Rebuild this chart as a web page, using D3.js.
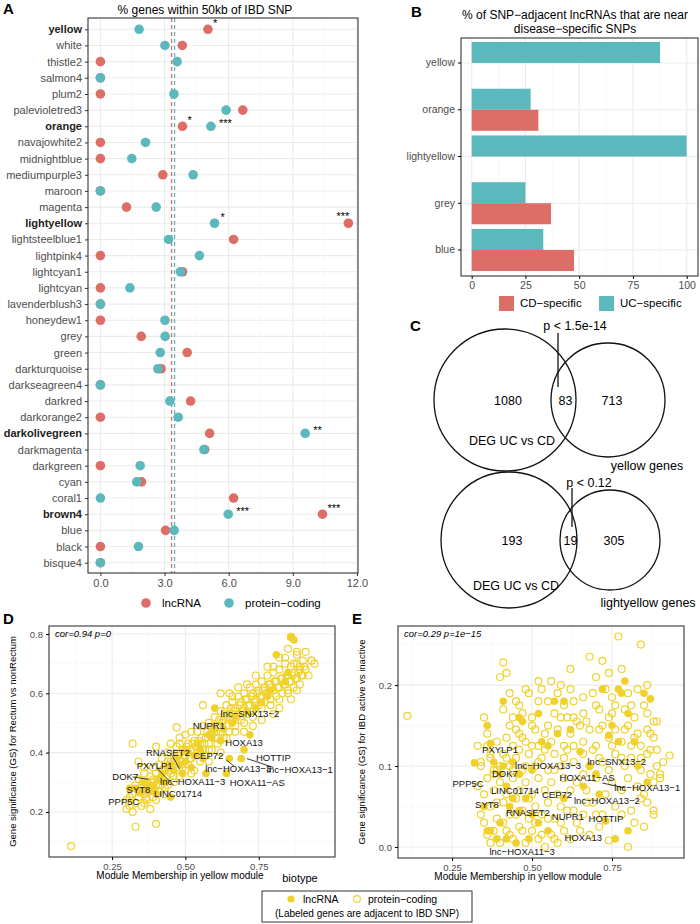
<!DOCTYPE html>
<html><head><meta charset="utf-8">
<script src="https://cdn.jsdelivr.net/npm/d3@7"></script>
<style>body{margin:0;background:#fff}svg{font-family:"Liberation Sans",Arial,sans-serif}</style>
</head><body><svg id="c" width="700" height="924"></svg>
<script>
// ---------- DATA ----------
const modules = ["yellow","white","thistle2","salmon4","plum2","palevioletred3","orange","navajowhite2","midnightblue","mediumpurple3","maroon","magenta","lightyellow","lightsteelblue1","lightpink4","lightcyan1","lightcyan","lavenderblush3","honeydew1","grey","green","darkturquoise","darkseagreen4","darkred","darkorange2","darkolivegreen","darkmagenta","darkgreen","cyan","coral1","brown4","blue","black","bisque4"];
const boldModules = ["yellow","orange","lightyellow","darkolivegreen","brown4"];
const lncPct = [5.03,3.83,0,0,0,6.66,3.84,0,0,2.92,0,1.22,11.6,6.23,0,3.84,0,0,0,1.91,4.06,2.84,0,4.22,0,5.11,4.88,0,1.92,6.23,10.39,3.05,0,0];
const pcPct  = [1.81,3.02,3.59,0,3.44,5.88,5.17,2.11,1.47,4.34,0,2.61,5.34,3.19,4.63,3.75,1.38,0,3.02,3.03,2.80,2.69,0,3.25,3.64,9.58,4.84,1.86,1.70,0,5.98,3.45,1.78,0];
const lncStars = {yellow:"*",orange:"*",lightyellow:"***",brown4:"***"};
const pcStars = {orange:"***",lightyellow:"*",darkolivegreen:"**",brown4:"***"};
const meanLnc = 3.33, meanPc = 3.47;
const aTicks = [0,3,6,9,12];

const bCats = ["yellow","orange","lightyellow","grey","blue"];
const bUC = [87.6,27.4,100,25,33.3];
const bCD = [null,31,null,36.9,47.6];
const bTicks = [0,25,50,75,100];

const venn1 = {a:1080, ab:83, b:713, p:"p < 1.5e-14", bName:"yellow genes"};
const venn2 = {a:193, ab:19, b:305, p:"p < 0.12", bName:"lightyellow genes"};

const dPC = [[0.11,0.085],[0.33,0.15],[0.40,0.16],[0.32,0.43],[0.34,0.37],[0.36,0.35],[0.38,0.21],[0.32,0.20],[0.47,0.485],[0.56,0.56],[0.62,0.60],[0.66,0.59],[0.86,0.79],[0.88,0.73],[0.93,0.71],[0.91,0.74],[0.80,0.69],[0.84,0.72],[0.87,0.70],[0.89,0.69],
[0.30,0.24],[0.31,0.22],[0.32,0.26],[0.33,0.23],[0.33,0.29],[0.34,0.25],[0.34,0.31],[0.35,0.22],[0.35,0.28],[0.36,0.26],[0.36,0.33],[0.37,0.24],[0.37,0.30],[0.38,0.27],[0.38,0.32],[0.39,0.25],[0.39,0.35],[0.40,0.29],[0.40,0.33],[0.40,0.42],[0.41,0.27],[0.41,0.36],[0.42,0.31],[0.42,0.38],[0.43,0.26],[0.43,0.34],[0.44,0.29],[0.44,0.40],[0.45,0.33],[0.45,0.37],[0.45,0.43],[0.46,0.30],[0.46,0.39],[0.47,0.35],[0.47,0.42],[0.48,0.32],[0.48,0.45],[0.49,0.37],[0.49,0.41],[0.50,0.34],[0.50,0.39],[0.50,0.46],[0.51,0.36],[0.51,0.43],[0.52,0.38],[0.52,0.41],[0.53,0.34],[0.53,0.44],[0.54,0.40],[0.54,0.47],[0.55,0.37],[0.55,0.43],[0.56,0.41],[0.56,0.49],[0.57,0.39],[0.57,0.45],[0.58,0.43],[0.58,0.50],[0.59,0.41],[0.59,0.47],[0.60,0.45],[0.60,0.52],[0.61,0.43],[0.61,0.49],[0.62,0.47],[0.62,0.54],[0.63,0.45],[0.63,0.51],[0.64,0.49],[0.64,0.56],[0.65,0.47],[0.65,0.53],[0.66,0.51],[0.66,0.57],[0.67,0.49],[0.67,0.55],[0.68,0.53],[0.68,0.59],[0.69,0.51],[0.69,0.57],[0.70,0.55],[0.70,0.60],[0.71,0.53],[0.71,0.58],[0.72,0.56],[0.72,0.62],[0.73,0.54],[0.73,0.60],[0.74,0.58],[0.74,0.63],[0.75,0.56],[0.75,0.61],[0.76,0.59],[0.76,0.64],[0.77,0.57],[0.77,0.62],[0.78,0.60],[0.78,0.66],[0.79,0.58],[0.79,0.63],[0.80,0.61],[0.80,0.67],[0.81,0.59],[0.81,0.64],[0.82,0.62],[0.82,0.68],[0.83,0.60],[0.83,0.65],[0.84,0.63],[0.84,0.70],[0.85,0.61],[0.85,0.66],[0.86,0.64],[0.86,0.69],[0.87,0.62],[0.87,0.67],[0.88,0.65],[0.88,0.70],[0.89,0.63],[0.89,0.68],[0.90,0.66],[0.90,0.71],[0.91,0.68],[0.92,0.66],[0.93,0.71],[0.94,0.70],[0.80,0.53],[0.76,0.51],[0.73,0.49],[0.70,0.47],[0.86,0.58],[0.62,0.40],[0.58,0.37],[0.85,0.75],[0.82,0.72],[0.88,0.74],[0.78,0.69],
[0.345,0.265],[0.355,0.30],[0.365,0.245],[0.375,0.285],[0.385,0.30],[0.395,0.27],[0.405,0.31],[0.415,0.29],[0.425,0.345],[0.435,0.32],[0.445,0.36],[0.455,0.35],[0.465,0.37],[0.475,0.39],[0.485,0.40],[0.495,0.39],[0.505,0.42],[0.515,0.38],[0.525,0.43],[0.535,0.42],[0.545,0.44],[0.555,0.45],[0.565,0.43],[0.575,0.47],[0.585,0.46],[0.595,0.49],[0.605,0.47],[0.615,0.51],[0.625,0.50],[0.635,0.53],[0.645,0.52],[0.655,0.55],[0.665,0.54],[0.675,0.52],[0.685,0.56],[0.695,0.54],[0.705,0.58],[0.715,0.56],[0.725,0.59],[0.735,0.57],[0.745,0.60],[0.755,0.59],[0.765,0.61],[0.775,0.60],[0.785,0.63],[0.795,0.62],[0.805,0.64],[0.815,0.62],[0.825,0.65],[0.835,0.63],[0.845,0.66],[0.855,0.64],[0.865,0.66],[0.875,0.65],[0.885,0.67],[0.895,0.66],[0.905,0.69],[0.52,0.47],[0.48,0.43],[0.44,0.37],[0.42,0.34],[0.39,0.31],[0.37,0.28],[0.36,0.23],[0.40,0.24],[0.43,0.28],[0.46,0.32],[0.49,0.35],[0.52,0.33],[0.55,0.40],[0.58,0.41],[0.61,0.45],[0.64,0.45],[0.67,0.47],[0.70,0.50],[0.73,0.52],[0.76,0.55],[0.79,0.56],[0.82,0.58],[0.85,0.60],[0.88,0.61],[0.74,0.66],[0.71,0.63],[0.68,0.62],[0.65,0.60],[0.82,0.55],[0.30,0.21],[0.31,0.25]];
const dLnc = [[0.33,0.28],[0.36,0.30],[0.37,0.27],[0.39,0.29],[0.40,0.26],[0.41,0.31],[0.43,0.30],[0.44,0.35],[0.45,0.25],[0.46,0.34],[0.47,0.38],[0.48,0.36],[0.49,0.33],[0.50,0.37],[0.51,0.40],[0.52,0.35],[0.53,0.39],[0.55,0.41],[0.56,0.38],[0.57,0.33],[0.58,0.46],[0.60,0.48],[0.62,0.44],[0.63,0.48],[0.64,0.33],[0.65,0.38],[0.67,0.52],[0.69,0.38],[0.70,0.41],[0.72,0.46],[0.74,0.55],[0.76,0.57],[0.79,0.61],[0.81,0.73],[0.86,0.79],[0.87,0.78],[0.60,0.55],[0.85,0.67],[0.31,0.28],[0.34,0.27],[0.38,0.29],[0.42,0.33],[0.45,0.36],[0.50,0.41],[0.54,0.43],[0.59,0.45],[0.66,0.50],[0.71,0.54],[0.78,0.59],[0.84,0.64],[0.39,0.27],[0.35,0.27]];
const dLabels = [["lnc−SNX13−2",0.72,0.533],["NUPR1",0.58,0.493],["HOXA13",0.70,0.433],["RNASET2",0.44,0.40],["CEP72",0.578,0.389],["HOTTIP",0.80,0.385],["lnc−HOXA13−3",0.68,0.345],["lnc−HOXA13−1",0.89,0.342],["HOXA11−AS",0.745,0.298],["PXYLP1",0.395,0.355],["lnc−HOXA11−3",0.525,0.304],["DOK7",0.295,0.318],["SYT8",0.34,0.274],["LINC01714",0.475,0.261],["PPP5C",0.29,0.234]];

const ePC = [[0.11,0.162],[0.33,0.125],[0.34,0.105],[0.35,0.16],[0.36,0.14],[0.37,0.115],[0.38,0.095],[0.39,0.13],[0.40,0.21],[0.41,0.228],[0.41,0.17],[0.42,0.215],[0.43,0.19],[0.44,0.16],[0.45,0.18],[0.46,0.175],[0.47,0.165],[0.48,0.195],[0.49,0.19],[0.50,0.16],[0.51,0.145],[0.52,0.205],[0.53,0.195],[0.55,0.18],[0.56,0.205],[0.58,0.19],[0.59,0.2],[0.60,0.175],[0.61,0.16],[0.62,0.22],[0.63,0.18],[0.65,0.15],[0.66,0.165],[0.68,0.235],[0.69,0.19],[0.70,0.21],[0.71,0.17],[0.72,0.23],[0.73,0.195],[0.74,0.215],[0.75,0.165],[0.76,0.175],[0.77,0.26],[0.78,0.22],[0.79,0.17],[0.80,0.19],[0.82,0.16],[0.83,0.195],[0.84,0.25],[0.85,0.175],[0.86,0.2],[0.87,0.14],[0.88,0.155],[0.89,0.12],[0.90,0.09],[0.91,0.105],[0.93,0.113],[0.88,0.045],[0.88,0.04],[0.85,0.025],[0.80,0.0],[0.74,0.008],[0.78,0.04],[0.82,0.03],[0.84,0.06],
[0.36,0.015],[0.38,0.02],[0.40,0.005],[0.42,0.02],[0.44,0.01],[0.46,0.025],[0.48,0.005],[0.50,0.02],[0.52,0.01],[0.54,0.0],[0.56,0.015],[0.58,0.005],[0.60,0.02],[0.62,0.01],[0.65,0.02],[0.68,0.015],[0.71,0.025],
[0.34,0.04],[0.37,0.05],[0.39,0.035],[0.41,0.055],[0.43,0.04],[0.45,0.06],[0.47,0.045],[0.49,0.035],[0.51,0.05],[0.53,0.04],[0.55,0.055],[0.57,0.035],[0.59,0.05],[0.63,0.045],[0.66,0.04],[0.69,0.055],[0.72,0.04],[0.76,0.05],[0.81,0.045],[0.86,0.055],
[0.33,0.075],[0.35,0.065],[0.36,0.085],[0.38,0.07],[0.40,0.08],[0.42,0.065],[0.44,0.085],[0.46,0.07],[0.48,0.08],[0.50,0.065],[0.52,0.085],[0.54,0.07],[0.56,0.08],[0.58,0.065],[0.60,0.085],[0.62,0.07],[0.64,0.08],[0.67,0.07],[0.70,0.085],[0.73,0.065],[0.75,0.08],[0.78,0.07],[0.80,0.085],[0.83,0.075],[0.85,0.065],[0.88,0.08],[0.90,0.085],
[0.34,0.1],[0.37,0.11],[0.39,0.095],[0.41,0.115],[0.43,0.1],[0.45,0.11],[0.47,0.095],[0.49,0.115],[0.51,0.1],[0.53,0.11],[0.55,0.095],[0.57,0.115],[0.59,0.1],[0.61,0.12],[0.63,0.105],[0.66,0.115],[0.68,0.1],[0.71,0.11],[0.74,0.095],[0.76,0.115],[0.79,0.1],[0.81,0.11],[0.84,0.095],[0.86,0.115],[0.89,0.1],
[0.36,0.125],[0.42,0.135],[0.44,0.125],[0.46,0.14],[0.48,0.13],[0.50,0.15],[0.52,0.125],[0.54,0.14],[0.56,0.13],[0.58,0.145],[0.60,0.125],[0.62,0.14],[0.64,0.155],[0.66,0.13],[0.68,0.145],[0.70,0.125],[0.72,0.15],[0.74,0.135],[0.76,0.145],[0.78,0.13],[0.80,0.15],[0.82,0.135],[0.84,0.125],[0.86,0.145],[0.88,0.135],[0.89,0.155],
[0.35,0.03],[0.37,0.005],[0.39,0.055],[0.41,0.03],[0.43,0.015],[0.45,0.04],[0.47,0.02],[0.49,0.06],[0.51,0.03],[0.53,0.015],[0.55,0.035],[0.57,0.01],[0.59,0.03],[0.61,0.045],[0.64,0.03],[0.67,0.055],[0.70,0.04],[0.38,0.09],[0.40,0.1],[0.42,0.11],[0.44,0.095],[0.46,0.12],[0.48,0.1],[0.50,0.125],[0.52,0.105],[0.54,0.12],[0.57,0.095],[0.60,0.11],[0.63,0.125],[0.66,0.09],[0.69,0.12],[0.72,0.105],[0.75,0.125],[0.78,0.11],[0.81,0.125],[0.84,0.11],[0.87,0.09],[0.55,0.15],[0.59,0.16],[0.63,0.16],[0.67,0.155],[0.71,0.145],[0.75,0.185],[0.81,0.175],[0.86,0.165],[0.47,0.135],[0.52,0.18],[0.57,0.165],[0.62,0.195],[0.66,0.185],[0.70,0.175],[0.74,0.16],[0.79,0.145],[0.83,0.14],[0.87,0.12],[0.45,0.145],[0.43,0.15]];
const eLnc = [[0.32,0.104],[0.36,0.15],[0.37,0.128],[0.41,0.18],[0.38,0.105],[0.40,0.09],[0.42,0.075],[0.44,0.06],[0.46,0.16],[0.47,0.155],[0.52,0.165],[0.53,0.13],[0.55,0.125],[0.57,0.18],[0.58,0.14],[0.60,0.18],[0.62,0.145],[0.65,0.118],[0.68,0.1],[0.70,0.09],[0.72,0.195],[0.74,0.138],[0.75,0.15],[0.77,0.195],[0.78,0.19],[0.79,0.205],[0.80,0.165],[0.82,0.13],[0.85,0.19],[0.87,0.183],[0.80,0.02],[0.76,0.01],[0.73,0.032],[0.36,0.02],[0.39,0.01],[0.45,0.005],[0.50,0.04],[0.55,0.02],[0.43,0.05],[0.48,0.06],[0.35,0.05],[0.37,0.02],[0.40,0.03],[0.42,0.01],[0.46,0.045],[0.49,0.01],[0.52,0.03],[0.41,0.1],[0.44,0.105],[0.50,0.095],[0.46,0.09],[0.60,0.06],[0.66,0.075],[0.71,0.065],[0.77,0.13],[0.83,0.1],[0.86,0.08]];
const eLabels = [["PXYLP1",0.400,0.121],["lnc−HOXA13−3",0.550,0.101],["lnc−SNX13−2",0.765,0.105],["DOK7",0.415,0.091],["HOXA11−AS",0.672,0.086],["PPP5C",0.300,0.078],["lnc−HOXA13−1",0.860,0.073],["LINC01714",0.447,0.070],["CEP72",0.578,0.065],["lnc−HOXA13−2",0.734,0.057],["SYT8",0.359,0.053],["RNASET2",0.487,0.043],["NUPR1",0.612,0.038],["HOTTIP",0.731,0.035],["HOXA13",0.660,0.012],["lnc−HOXA11−3",0.469,-0.006]];

// ---------- DRAW ----------
const svg = d3.select("#c");
const RED="#DC6E67", TEAL="#5BB8BD", GOLD="#F0D12C", GRID="#EBEBEB", GRIDm="#F5F5F5", TXT="#4D4D4D";
function panelLetter(t,x,y){svg.append("text").attr("x",x).attr("y",y).attr("font-size",15).attr("font-weight","bold").text(t);}

// ----- Panel A -----
(function(){
  const L=88,R=358,T=18,B=573;
  const x=d3.scaleLinear().domain([-0.58,12.05]).range([L,R]);
  const y=d3.scalePoint().domain(modules).range([29.3,562.7]);
  const g=svg.append("g");
  [1.5,4.5,7.5,10.5].forEach(v=>g.append("line").attr("x1",x(v)).attr("x2",x(v)).attr("y1",T).attr("y2",B).attr("stroke",GRIDm).attr("stroke-width",0.6));
  aTicks.forEach(v=>g.append("line").attr("x1",x(v)).attr("x2",x(v)).attr("y1",T).attr("y2",B).attr("stroke",GRID).attr("stroke-width",1.1));
  modules.forEach(m=>g.append("line").attr("x1",L).attr("x2",R).attr("y1",y(m)).attr("y2",y(m)).attr("stroke",GRID).attr("stroke-width",1.1));
  g.append("line").attr("x1",x(meanLnc)).attr("x2",x(meanLnc)).attr("y1",T).attr("y2",B).attr("stroke",RED).attr("stroke-width",1.3).attr("stroke-dasharray","4,3");
  g.append("line").attr("x1",x(meanPc)).attr("x2",x(meanPc)).attr("y1",T).attr("y2",B).attr("stroke",TEAL).attr("stroke-width",1.3).attr("stroke-dasharray","4,3");
  modules.forEach((m,i)=>{
    g.append("circle").attr("cx",x(lncPct[i])).attr("cy",y(m)).attr("r",4.8).attr("fill",RED);
    g.append("circle").attr("cx",x(pcPct[i])).attr("cy",y(m)).attr("r",4.8).attr("fill",TEAL);
    if(lncStars[m]){const up=m==="lightyellow";g.append("text").attr("x",x(lncPct[i])+(up?-12:5)).attr("y",y(m)+(up?-3:-2)).attr("font-size",11).text(lncStars[m]);}
    if(pcStars[m]){g.append("text").attr("x",x(pcPct[i])+(pcStars[m]==="*"?6:8)).attr("y",y(m)+(pcStars[m]==="*"?-2:1)).attr("font-size",11).text(pcStars[m]);}
  });
  g.append("rect").attr("x",L).attr("y",T).attr("width",R-L).attr("height",B-T).attr("fill","none").attr("stroke","#333").attr("stroke-width",1.1);
  const ax=g.append("g").attr("transform",`translate(0,${B})`).call(d3.axisBottom(x).tickValues(aTicks).tickFormat(d3.format(".1f")).tickSize(3));
  ax.select(".domain").remove(); ax.selectAll("text").attr("font-size",11).attr("fill",TXT).attr("font-family","Liberation Sans");
  ax.selectAll("line").attr("stroke","#333");
  const ay=g.append("g").attr("transform",`translate(${L},0)`).call(d3.axisLeft(y).tickSize(3));
  ay.select(".domain").remove(); ay.selectAll("line").attr("stroke","#333");
  ay.selectAll("text").attr("font-size",11).attr("font-family","Liberation Sans").attr("fill",d=>boldModules.includes(d)?"#222":TXT).attr("font-weight",d=>boldModules.includes(d)?"bold":"normal");
  svg.append("text").attr("x",205).attr("y",14).attr("text-anchor","middle").attr("font-size",12).text("% genes within 50kb of IBD SNP");
  svg.append("circle").attr("cx",146).attr("cy",603).attr("r",4.8).attr("fill",RED);
  svg.append("text").attr("x",162).attr("y",607).attr("font-size",11.5).text("lncRNA");
  svg.append("circle").attr("cx",229).attr("cy",603).attr("r",4.8).attr("fill",TEAL);
  svg.append("text").attr("x",245).attr("y",607).attr("font-size",11.5).text("protein−coding");
  panelLetter("A",3,14);
})();

// ----- Panel B -----
(function(){
  const L=461,R=698,T=38,B=276;
  const x=d3.scaleLinear().domain([0,100]).range([471.7,686.7]);
  const y=d3.scaleBand().domain(bCats).range([42,271]).paddingInner(0.1);
  const g=svg.append("g");
  [12.5,37.5,62.5,87.5].forEach(v=>g.append("line").attr("x1",x(v)).attr("x2",x(v)).attr("y1",T).attr("y2",B).attr("stroke",GRIDm).attr("stroke-width",0.6));
  bTicks.forEach(v=>g.append("line").attr("x1",x(v)).attr("x2",x(v)).attr("y1",T).attr("y2",B).attr("stroke",GRID).attr("stroke-width",1.1));
  bCats.forEach(c=>g.append("line").attr("x1",L).attr("x2",R).attr("y1",y(c)+y.bandwidth()/2).attr("y2",y(c)+y.bandwidth()/2).attr("stroke",GRID).attr("stroke-width",1.1));
  const bw=y.bandwidth()/2;
  bCats.forEach((c,i)=>{
    if(bUC[i]!=null) g.append("rect").attr("x",x(0)).attr("y",y(c)).attr("width",x(bUC[i])-x(0)).attr("height",bw).attr("fill",TEAL);
    if(bCD[i]!=null) g.append("rect").attr("x",x(0)).attr("y",y(c)+bw).attr("width",x(bCD[i])-x(0)).attr("height",bw).attr("fill",RED);
  });
  g.append("rect").attr("x",L).attr("y",T).attr("width",R-L).attr("height",B-T).attr("fill","none").attr("stroke","#333").attr("stroke-width",1.1);
  const ax=g.append("g").attr("transform",`translate(0,${B})`).call(d3.axisBottom(x).tickValues(bTicks).tickSize(3));
  ax.select(".domain").remove(); ax.selectAll("text").attr("font-size",10.5).attr("fill",TXT).attr("font-family","Liberation Sans");
  const ay=g.append("g").attr("transform",`translate(${L},0)`).call(d3.axisLeft(y).tickSize(3));
  ay.select(".domain").remove(); ay.selectAll("text").attr("font-size",10.5).attr("fill",TXT).attr("font-family","Liberation Sans");
  svg.append("text").attr("x",575).attr("y",19).attr("text-anchor","middle").attr("font-size",12).text("% of SNP−adjacent lncRNAs that are near");
  svg.append("text").attr("x",575).attr("y",33).attr("text-anchor","middle").attr("font-size",12).text("disease−specific SNPs");
  svg.append("rect").attr("x",499).attr("y",296).attr("width",15).attr("height",15).attr("fill",RED);
  svg.append("text").attr("x",520).attr("y",307).attr("font-size",11.5).text("CD−specific");
  svg.append("rect").attr("x",599).attr("y",296).attr("width",15).attr("height",15).attr("fill",TEAL);
  svg.append("text").attr("x",620).attr("y",307).attr("font-size",11.5).text("UC−specific");
  panelLetter("B",411,17);
})();

// ----- Panel C -----
function venn(v,cy,ra,rb,cxa,cxb,lineX,lineTop,lineBot,pY,bx,by,degY){
  const g=svg.append("g").attr("font-size",12.5);
  g.append("circle").attr("cx",cxa).attr("cy",cy).attr("r",ra).attr("fill","none").attr("stroke","#111").attr("stroke-width",1.3);
  g.append("circle").attr("cx",cxb).attr("cy",cy).attr("r",rb).attr("fill","none").attr("stroke","#111").attr("stroke-width",1.3);
  g.append("text").attr("x",cxa+3).attr("y",cy+5).attr("text-anchor","middle").text(v.a);
  g.append("text").attr("x",(cxa+ra+cxb-rb)/2+2).attr("y",cy+5).attr("text-anchor","middle").text(v.ab);
  g.append("text").attr("x",cxb+4).attr("y",cy+5).attr("text-anchor","middle").text(v.b);
  g.append("line").attr("x1",lineX).attr("x2",lineX).attr("y1",lineTop).attr("y2",lineBot).attr("stroke","#111").attr("stroke-width",1.3);
  g.append("text").attr("x",lineX+17).attr("y",pY).attr("text-anchor","middle").text(v.p);
  g.append("text").attr("x",cxa+7).attr("y",degY).attr("text-anchor","middle").text("DEG UC vs CD");
  g.append("text").attr("x",bx).attr("y",by).attr("text-anchor","middle").text(v.bName);
}
venn(venn1,400,71,57,505,608,558,333,387,330,647,470,445);
venn(venn2,540,68,50,509,610,572,488,527,487,648,607,590);
panelLetter("C",410,331);

// ----- Scatter helpers -----
function scatter(opts){
  const {L,R,T,B,xd,yd,xt,yt,pc,lnc,labels,cor,ytitle,xtitleX,leaders,xfmt,yfmt,yMinor,xMinor}=opts;
  const x=d3.scaleLinear().domain(xd).range([L,R]);
  const y=d3.scaleLinear().domain(yd).range([B,T]);
  const g=svg.append("g");
  xMinor.forEach(v=>g.append("line").attr("x1",x(v)).attr("x2",x(v)).attr("y1",T).attr("y2",B).attr("stroke",GRIDm).attr("stroke-width",0.6));
  yMinor.forEach(v=>g.append("line").attr("x1",L).attr("x2",R).attr("y1",y(v)).attr("y2",y(v)).attr("stroke",GRIDm).attr("stroke-width",0.6));
  xt.forEach(v=>g.append("line").attr("x1",x(v)).attr("x2",x(v)).attr("y1",T).attr("y2",B).attr("stroke",GRID).attr("stroke-width",1.1));
  yt.forEach(v=>g.append("line").attr("x1",L).attr("x2",R).attr("y1",y(v)).attr("y2",y(v)).attr("stroke",GRID).attr("stroke-width",1.1));
  g.selectAll(".pc").data(pc).join("circle").attr("cx",d=>x(d[0])).attr("cy",d=>y(d[1])).attr("r",3.5).attr("fill","none").attr("stroke",GOLD).attr("stroke-width",1.2);
  g.selectAll(".ln").data(lnc).join("circle").attr("cx",d=>x(d[0])).attr("cy",d=>y(d[1])).attr("r",3.8).attr("fill",GOLD);
  leaders.forEach(l=>g.append("line").attr("x1",x(l[0])).attr("y1",y(l[1])).attr("x2",x(l[2])).attr("y2",y(l[3])).attr("stroke","#222").attr("stroke-width",0.9));
  labels.forEach(l=>g.append("text").attr("x",x(l[1])).attr("y",y(l[2])+3.5).attr("text-anchor","middle").attr("font-size",9.5).attr("fill","#111").text(l[0]));
  g.append("rect").attr("x",L).attr("y",T).attr("width",R-L).attr("height",B-T).attr("fill","none").attr("stroke","#333").attr("stroke-width",1.1);
  const ax=g.append("g").attr("transform",`translate(0,${B})`).call(d3.axisBottom(x).tickValues(xt).tickFormat(xfmt).tickSize(3));
  ax.select(".domain").remove(); ax.selectAll("text").attr("font-size",9.5).attr("fill",TXT).attr("font-family","Liberation Sans");
  const ay=g.append("g").attr("transform",`translate(${L},0)`).call(d3.axisLeft(y).tickValues(yt).tickFormat(yfmt).tickSize(3));
  ay.select(".domain").remove(); ay.selectAll("text").attr("font-size",9.5).attr("fill",TXT).attr("font-family","Liberation Sans");
  g.append("text").attr("x",L+6).attr("y",T+11).attr("font-size",9.5).attr("font-style","italic").text(cor);
  g.append("text").attr("transform",`translate(${L-33},${(T+B)/2}) rotate(-90)`).attr("text-anchor","middle").attr("font-size",9.5).text(ytitle);
  g.append("text").attr("x",xtitleX).attr("y",B+22).attr("text-anchor","middle").attr("font-size",10).text("Module Membership in yellow module");
}
scatter({L:49,R:335,T:626,B:857,xd:[0.035,1.01],yd:[0.048,0.827],xt:[0.25,0.5,0.75],yt:[0.2,0.4,0.6,0.8],
  xMinor:[0.125,0.375,0.625,0.875],yMinor:[0.1,0.3,0.5,0.7],pc:dPC,lnc:dLnc,labels:dLabels,cor:"cor=0.94 p=0",
  ytitle:"Gene significance (GS) for Rectum vs nonRectum",xtitleX:180,xfmt:d3.format(".2f"),yfmt:d3.format(".1f"),
  leaders:[[0.455,0.39,0.48,0.345],[0.405,0.345,0.46,0.29],[0.32,0.318,0.375,0.31],[0.64,0.375,0.665,0.355],[0.71,0.38,0.80,0.35]]});
scatter({L:398,R:684,T:626,B:858,xd:[0.081,0.975],yd:[-0.0136,0.273],xt:[0.25,0.5,0.75],yt:[0,0.1,0.2],
  xMinor:[0.125,0.375,0.625,0.875],yMinor:[0.05,0.15,0.25],pc:ePC,lnc:eLnc,labels:eLabels,cor:"cor=0.29 p=1e−15",
  ytitle:"Gene significance (GS) for IBD active vs inactive",xtitleX:518,xfmt:d3.format(".2f"),yfmt:d3.format(".1f"),
  leaders:[[0.72,0.079,0.79,0.073]]});
panelLetter("D",3,624);
panelLetter("E",352,624);

// ----- shared legend -----
svg.append("text").attr("x",300).attr("y",882).attr("text-anchor","middle").attr("font-size",11).text("biotype");
svg.append("rect").attr("x",262).attr("y",891).attr("width",210).attr("height",31).attr("fill","none").attr("stroke","#333");
svg.append("circle").attr("cx",291).attr("cy",899).attr("r",3.6).attr("fill",GOLD);
svg.append("text").attr("x",303).attr("y",903).attr("font-size",10.5).text("lncRNA");
svg.append("circle").attr("cx",357).attr("cy",899).attr("r",3.4).attr("fill","none").attr("stroke",GOLD).attr("stroke-width",1.1);
svg.append("text").attr("x",368).attr("y",903).attr("font-size",10.5).text("protein−coding");
svg.append("text").attr("x",367).attr("y",917).attr("text-anchor","middle").attr("font-size",10).text("(Labeled genes are adjacent to IBD SNP)");
</script></body></html>
